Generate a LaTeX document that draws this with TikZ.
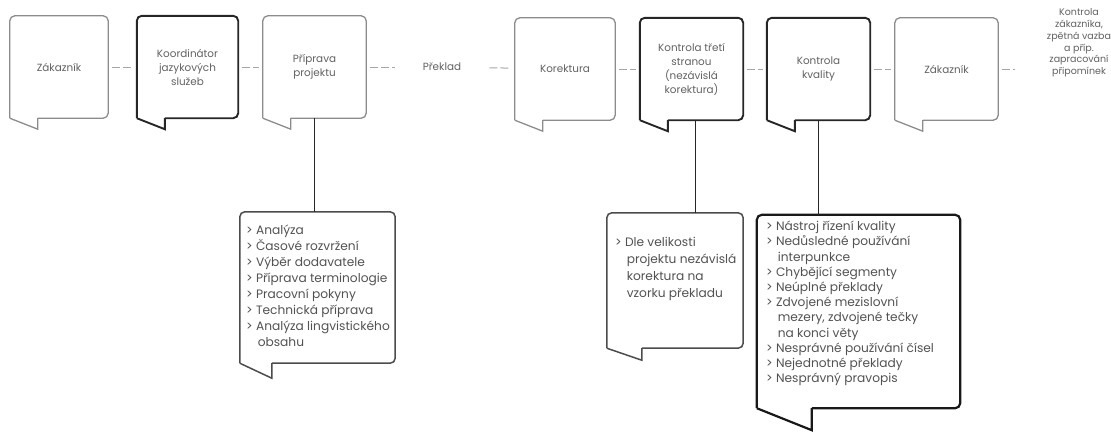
\documentclass[tikz,border=0pt]{standalone}
\usepackage{fontspec}
\setmainfont{Poppins}
\usetikzlibrary{calc}

% outline of a speech bubble round a node: #2 node, #3/#4 tail offset
\newcommand{\speechframe}[4][]{%
  \draw[#1, rounded corners=5pt] (#2.south west) -- (#2.north west) -- (#2.north east)
    -- (#2.south east) -- ($(#2.south west)+(#3,0)$);
  \draw[#1, line join=miter] (#2.south west) -- ++(#3,#4) -- ++(0,-#4);
}

\begin{document}
\begin{tikzpicture}[x=1pt,y=-1pt]
\tikzstyle{frame} = [rectangle, inner sep=0pt, minimum height=102pt]
\tikzstyle{head} = [text=black!62, align=center, font=\fontsize{10.4}{14}\selectfont]
\tikzstyle{items} = [text=black!68, align=left, anchor=north west, inner sep=0pt,
  font=\fontsize{12.2}{16}\selectfont]
\tikzstyle{light} = [draw=black!45, line width=1.3pt]
\tikzstyle{heavy} = [draw=black!85, line width=1.9pt]
\tikzstyle{link} = [draw=black!35, line width=1pt, dash pattern=on 8pt off 3pt,
  shorten >=4pt, shorten <=4pt]
\tikzstyle{stem} = [draw=black!85, line width=1.5pt]

\useasboundingbox (0,0) rectangle (1111,432);

% top row
\node[frame, head, minimum width=98pt] (zak1) at (59,67) {Zákazník};
\node[frame, head, minimum width=101pt] (koord) at (187.5,67) {Koordinátor\\jazykových\\služeb};
\node[frame, head, minimum width=103pt] (priprava) at (314.5,67) {Příprava\\projektu};
\node[head, inner xsep=24pt] (preklad) at (442,67) {Překlad};
\node[frame, head, minimum width=100pt] (korektura) at (565,69) {Korektura};
\node[frame, head, minimum width=103pt] (kontrola3) at (691.5,69) {Kontrola třetí\\stranou\\(nezávislá\\korektura)};
\node[frame, head, minimum width=103pt] (kvalita) at (818.5,69) {Kontrola\\kvality};
\node[frame, head, minimum width=103pt] (zak2) at (946.5,69) {Zákazník};
\node[head, font=\fontsize{9.5}{11.8}\selectfont] (kontrolaZak) at (1079,43)
  {Kontrola\\zákazníka,\\zpětná vazba\\a příp.\\zapracování\\připomínek};

\speechframe[light]{zak1}{28}{11}
\speechframe[heavy]{koord}{28}{11}
\speechframe[light]{priprava}{28}{11}
\speechframe[light]{korektura}{28}{11}
\speechframe[heavy]{kontrola3}{28}{11}
\speechframe[heavy]{kvalita}{28}{11}
\speechframe[light]{zak2}{28}{11}

% lower boxes
\node[frame, minimum width=155pt, minimum height=151pt] (pripravaList) at (317.5,287.5) {};
\node[items] (pripravaText) at (246,225) {> Analýza\\> Časové rozvržení\\> Výběr dodavatele\\
  > Příprava terminologie\\> Pracovní pokyny\\> Technická příprava\\
  > Analýza lingvistického\\\hspace*{0.95em}obsahu};
\node[frame, minimum width=136pt, minimum height=135pt] (velikost) at (675,280.5) {};
\node[items, font=\fontsize{12.2}{17}\selectfont] (velikostText) at (615,237)
  {> Dle velikosti\\\hspace*{0.95em}projektu nezávislá\\\hspace*{0.95em}korektura na\\
  \hspace*{0.95em}vzorku překladu};
\node[frame, minimum width=203pt, minimum height=193pt] (nastroj) at (858.5,311.5) {};
\node[items, font=\fontsize{12.2}{15.2}\selectfont] (nastrojText) at (766,221)
  {> Nástroj řízení kvality\\> Nedůsledné používání\\\hspace*{0.95em}interpunkce\\
  > Chybějící segmenty\\> Neúplné překlady\\> Zdvojené mezislovní\\
  \hspace*{0.95em}mezery, zdvojené tečky\\\hspace*{0.95em}na konci věty\\
  > Nesprávné používání čísel\\> Nejednotné překlady\\> Nesprávný pravopis};

\speechframe[draw=black!70, line width=1.5pt]{pripravaList}{32}{15}
\speechframe[draw=black!70, line width=1.5pt]{velikost}{35}{12}
\speechframe[draw=black!90, line width=2.2pt]{nastroj}{55}{22}

% connectors
\draw[link] (zak1) -- (koord);
\draw[link] (koord) -- (priprava);
\draw[link] (priprava) -- (preklad);
\draw[link] (preklad) -- (korektura);
\draw[link] (korektura) -- (kontrola3);
\draw[link] (kontrola3) -- (kvalita);
\draw[link] (kvalita) -- (zak2);
\draw[link, shorten >=28pt] (zak2.east) -- (zak2.east -| kontrolaZak.west);
\draw[stem] (priprava.south) -- (priprava.south |- pripravaList.north);
\draw[stem] ([xshift=4pt]kontrola3.south) -- ([xshift=4pt]kontrola3.south |- velikost.north);
\draw[stem] (kvalita.south) -- (kvalita.south |- nastroj.north);
\end{tikzpicture}
\end{document}
